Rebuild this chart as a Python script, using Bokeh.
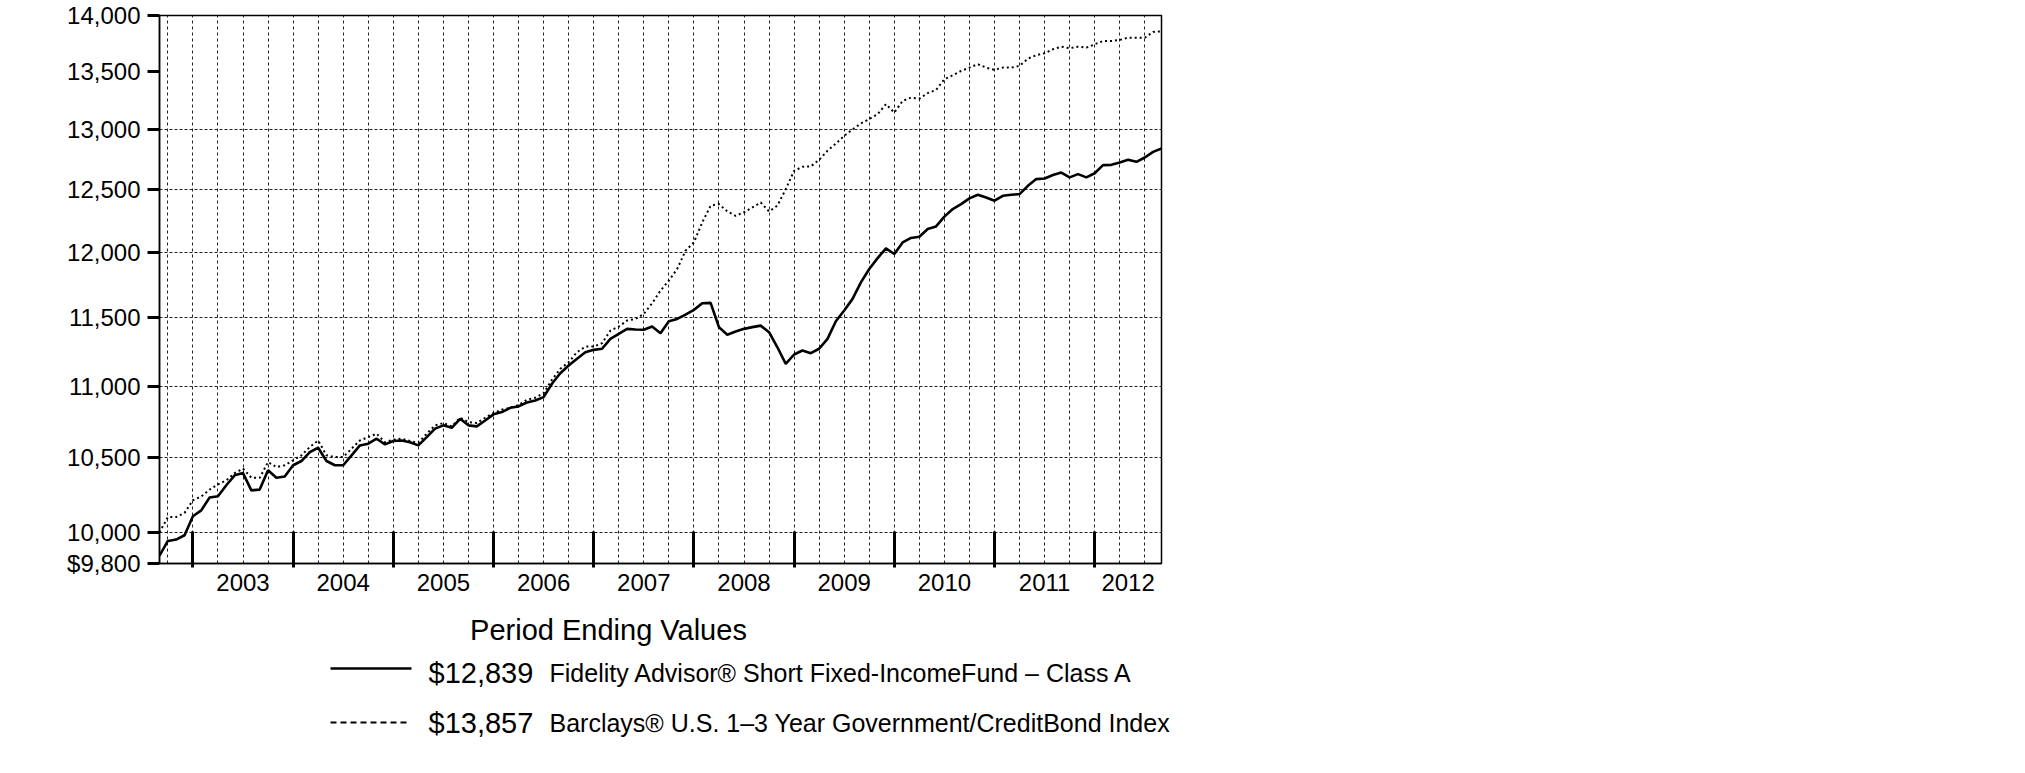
from bokeh.plotting import figure
from bokeh.models import FixedTicker, CustomJSTickFormatter, Range1d
from bokeh.layouts import column
from bokeh.core.properties import value
from bokeh.embed import file_html
from bokeh.resources import INLINE

# ---------------- data ----------------
start_year = 2002
start_month = 8  # first point: month-end August 2002

fund = [
    9850, 9945, 9954, 9982, 10106, 10145, 10230, 10238, 10312, 10379,
    10394, 10278, 10283, 10413, 10363, 10371, 10447, 10476, 10537, 10567,
    10476, 10447, 10447, 10515, 10583, 10595, 10629, 10590, 10613, 10617,
    10605, 10583, 10640, 10699, 10722, 10705, 10768, 10722, 10715, 10756,
    10799, 10815, 10845, 10855, 10883, 10897, 10921, 11016, 11092, 11148,
    11197, 11245, 11262, 11270, 11343, 11380, 11417, 11412, 11410, 11434,
    11385, 11474, 11491, 11524, 11559, 11609, 11612, 11430, 11373, 11397,
    11417, 11430, 11441, 11392, 11281, 11160, 11228, 11257, 11238, 11270,
    11343, 11474, 11554, 11642, 11768, 11871, 11955, 12031, 11987, 12078,
    12113, 12123, 12184, 12204, 12282, 12343, 12383, 12429, 12458, 12436,
    12410, 12450, 12458, 12464, 12531, 12586, 12591, 12619, 12640, 12600,
    12627, 12600, 12634, 12701, 12703, 12723, 12745, 12728, 12764, 12811,
    12839,
]

index = [
    10000, 10101, 10101, 10128, 10212, 10237, 10283, 10318, 10345, 10394,
    10424, 10363, 10362, 10469, 10435, 10447, 10481, 10515, 10572, 10617,
    10515, 10503, 10503, 10560, 10617, 10640, 10664, 10605, 10623, 10629,
    10613, 10601, 10664, 10722, 10738, 10715, 10775, 10745, 10738, 10775,
    10808, 10832, 10845, 10865, 10902, 10916, 10949, 11045, 11124, 11172,
    11245, 11286, 11286, 11311, 11404, 11434, 11479, 11491, 11529, 11609,
    11705, 11781, 11871, 12013, 12078, 12236, 12370, 12383, 12324, 12289,
    12317, 12356, 12396, 12324, 12370, 12504, 12654, 12687, 12690, 12745,
    12820, 12880, 12945, 13000, 13050, 13087, 13129, 13215, 13143, 13243,
    13272, 13262, 13310, 13338, 13431, 13466, 13504, 13533, 13563, 13533,
    13514, 13533, 13533, 13548, 13612, 13643, 13660, 13696, 13719, 13705,
    13719, 13710, 13740, 13770, 13770, 13779, 13799, 13799, 13799, 13851,
    13857,
]

year_labels = ["2003", "2004", "2005", "2006", "2007", "2008", "2009", "2010", "2011", "2012"]
y_ticks = [9800, 10000, 10500, 11000, 11500, 12000, 12500, 13000, 13500, 14000]
y_grid = [10000, 10500, 11000, 11500, 12000, 12500, 13000]

legend_title = "Period Ending Values"
legend_values = ["$12,839", "$13,857"]
legend_names = [
    "Fidelity Advisor\u00ae Short Fixed-IncomeFund \u2013 Class A",
    "Barclays\u00ae U.S. 1\u20133 Year Government/CreditBond Index",
]

# ---------------- derived positions ----------------
x = [start_year + (start_month + i) / 12.0 for i in range(len(fund))]
x0, x1 = x[0], x[-1]
year_starts = [float(int(y)) for y in year_labels]
label_pos = []
for y in year_starts:
    lo, hi = max(y, x0), min(y + 1, x1)
    label_pos.append((lo + hi) / 2.0)
quarters = [x[i] for i in range(len(x)) if (start_month + i) % 3 == 0 and x0 < x[i] < x1]

FONT = value("Liberation Sans")

TOP_H = 605
p = figure(width=1200, height=TOP_H, output_backend="svg", toolbar_location=None,
           x_range=Range1d(x0, x1), y_range=Range1d(9800, 14000), y_axis_type="log",
           min_border_left=159, min_border_right=39, min_border_top=15,
           min_border_bottom=TOP_H - 15 - 548,
           background_fill_color="white", border_fill_color="white")
p.frame_align = False

# x axis
xa = p.xaxis[0]
xa.ticker = FixedTicker(ticks=label_pos, minor_ticks=year_starts)
xa.formatter = CustomJSTickFormatter(args=dict(labels=year_labels, pos=label_pos), code="""
    let best = 0;
    for (let i = 0; i < pos.length; i++) {
        if (Math.abs(pos[i] - tick) < Math.abs(pos[best] - tick)) best = i;
    }
    return labels[best];
""")
xa.major_tick_in = 0
xa.major_tick_out = 0
xa.minor_tick_in = 32
xa.minor_tick_out = 4
xa.minor_tick_line_width = 3
xa.minor_tick_line_color = "black"
xa.axis_line_width = 1.5
xa.axis_line_color = "black"
xa.major_label_standoff = 6
xa.major_label_text_font = "Liberation Sans"
xa.major_label_text_font_size = "24px"
xa.major_label_text_color = "black"

# y axis
ya = p.yaxis[0]
ya.ticker = FixedTicker(ticks=y_ticks)
ya.formatter = CustomJSTickFormatter(code="""
    const s = Math.round(tick).toString().replace(/\\B(?=(\\d{3})+(?!\\d))/g, ",");
    return tick < 9900 ? "$" + s : s;
""")
ya.major_tick_in = 0
ya.major_tick_out = 12
ya.major_tick_line_width = 3
ya.major_tick_line_color = "black"
ya.minor_tick_line_color = None
ya.axis_line_width = 1.5
ya.axis_line_color = "black"
ya.major_label_standoff = 7
ya.major_label_text_font = "Liberation Sans"
ya.major_label_text_font_size = "24px"
ya.major_label_text_color = "black"

# grids
p.xgrid[0].ticker = FixedTicker(ticks=quarters)
p.ygrid[0].ticker = FixedTicker(ticks=y_grid)
p.xgrid.grid_line_color = "#222222"
p.xgrid.grid_line_dash = "3 3"
p.xgrid.grid_line_width = 1
p.ygrid.grid_line_color = "#222222"
p.ygrid.grid_line_dash = "3 2"
p.ygrid.grid_line_width = 1

p.outline_line_color = "black"
p.outline_line_width = 1.5

# series
p.line(x, index, line_color="black", line_width=2, line_dash="2 3")
p.line(x, fund, line_color="black", line_width=2.6)

# ---------------- legend block (page pixel coordinates) ----------------
PAGE_H = 773
lg = figure(width=1200, height=PAGE_H - TOP_H, output_backend="svg", toolbar_location=None,
            x_range=Range1d(0, 1200), y_range=Range1d(PAGE_H, TOP_H),
            x_axis_location=None, y_axis_location=None, min_border=0,
            background_fill_color="white", border_fill_color="white")
lg.frame_align = False
lg.grid.visible = False
lg.outline_line_color = None

lg.text(x=[608], y=[629], text=[legend_title], text_align="center",
        text_baseline="middle", text_font=FONT, text_font_size=value("29px"),
        text_color="black")

row_mid = [672, 722]
row_line = [668, 722]
lg.line(x=[330, 411], y=[row_line[0], row_line[0]], line_color="black", line_width=2.6)
lg.line(x=[330, 409], y=[row_line[1], row_line[1]], line_color="black", line_width=2,
        line_dash="6 4")

lg.text(x=[428, 428], y=row_mid, text=legend_values, text_align="left",
        text_baseline="middle", text_font=FONT, text_font_size=value("29px"),
        text_color="black")
lg.text(x=[549, 549], y=row_mid, text=legend_names, text_align="left",
        text_baseline="middle", text_font=FONT, text_font_size=value("25px"),
        text_color="black")

layout = column(p, lg, spacing=0)
open("out.html", "w").write(file_html(layout, INLINE))
